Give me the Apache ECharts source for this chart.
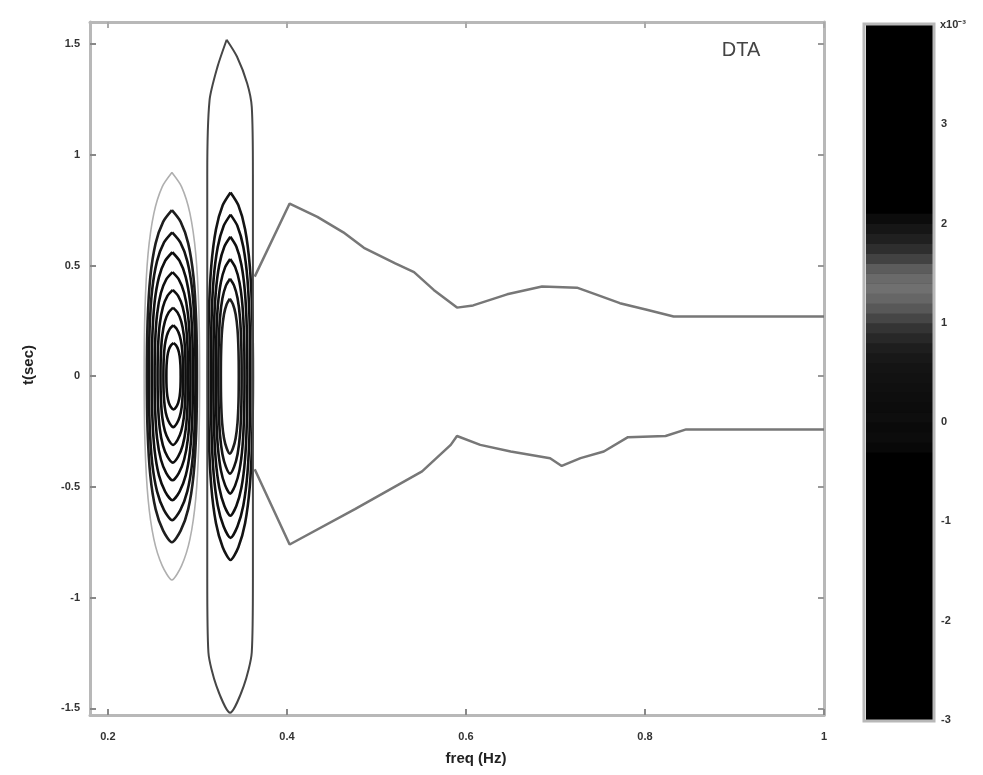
<!DOCTYPE html>
<html>
<head>
<meta charset="utf-8">
<script src="https://cdn.jsdelivr.net/npm/echarts@6/dist/echarts.min.js"></script>
<style>
  html, body { margin: 0; padding: 0; background: #fff; }
  #chart { width: 983px; height: 775px; }
</style>
</head>
<body>
<div id="chart"></div>
<script>
// tick labels
const xTicks = [0.2, 0.4, 0.6, 0.8, 1]
const yTicks = [-1.5, -1, -0.5, 0, 0.5, 1, 1.5]
const cbTicks = [-3, -2, -1, 0, 1, 2, 3]

// ridge lines [freq, t]
const upperRidge = [
  [0.364, 0.45], [0.403, 0.78], [0.434, 0.72], [0.463, 0.65], [0.486, 0.58],
  [0.521, 0.51], [0.542, 0.47], [0.564, 0.39], [0.590, 0.31], [0.608, 0.32],
  [0.646, 0.37], [0.685, 0.405], [0.724, 0.40], [0.745, 0.37], [0.772, 0.33],
  [0.802, 0.30], [0.832, 0.27], [1.0, 0.27]
]
const lowerRidge = [
  [0.364, -0.42], [0.403, -0.76], [0.476, -0.60], [0.551, -0.43], [0.583, -0.31],
  [0.590, -0.27], [0.616, -0.31], [0.650, -0.34], [0.694, -0.37], [0.707, -0.405],
  [0.728, -0.37], [0.754, -0.34], [0.781, -0.275], [0.823, -0.27], [0.846, -0.24],
  [1.0, -0.24]
]

// contour rings: [centre freq, half width, half height, gray level]
const ringsA = [
  [0.2715, 0.031, 0.92, 175],
  [0.2715, 0.028, 0.75, 30],
  [0.2718, 0.026, 0.65, 20],
  [0.2720, 0.023, 0.56, 15],
  [0.2722, 0.020, 0.47, 15],
  [0.2725, 0.017, 0.39, 15],
  [0.2728, 0.014, 0.31, 15],
  [0.2730, 0.011, 0.23, 15],
  [0.2733, 0.008, 0.15, 15]
]
const ringsB = [
  [0.3370, 0.025, 0.83, 20],
  [0.3370, 0.022, 0.73, 15],
  [0.3368, 0.019, 0.63, 15],
  [0.3366, 0.016, 0.53, 15],
  [0.3364, 0.013, 0.44, 20],
  [0.3362, 0.010, 0.35, 30]
]
const outerB = [0.3365, 0.0255, 1.52, 70]

// unit loop shapes
const lensShape = [
  [0, 1], [0.35, 0.93], [0.65, 0.8], [0.86, 0.6], [0.97, 0.33], [1, 0],
  [0.97, -0.33], [0.86, -0.6], [0.65, -0.8], [0.35, -0.93], [0, -1],
  [-0.35, -0.93], [-0.65, -0.8], [-0.86, -0.6], [-0.97, -0.33], [-1, 0],
  [-0.97, 0.33], [-0.86, 0.6], [-0.65, 0.8], [-0.35, 0.93], [0, 1]
]
const longShape = [
  [-0.15, 1], [0.3, 0.95], [0.75, 0.87], [0.95, 0.8], [1, 0.6], [1, -0.6],
  [0.95, -0.82], [0.6, -0.92], [0, -1], [-0.6, -0.92], [-0.95, -0.82],
  [-1, -0.6], [-1, 0.6], [-0.9, 0.82], [-0.55, 0.92], [-0.15, 1]
]

// colorbar gray band: [value, gray]
const cbBand = [
  [-0.3, 8], [-0.2, 12], [-0.1, 10], [0.0, 14], [0.1, 12], [0.2, 14], [0.3, 16],
  [0.4, 18], [0.5, 20], [0.6, 24], [0.7, 30], [0.8, 40], [0.9, 52], [1.0, 70],
  [1.1, 88], [1.2, 102], [1.3, 112], [1.4, 106], [1.5, 92], [1.6, 66],
  [1.7, 46], [1.8, 32], [1.9, 22], [2.0, 12]
]

const font = 'Liberation Sans'
const frameColor = '#b8b8b8'
const tickLabel = { color: '#333', fontSize: 11, fontWeight: 'bold', fontFamily: font }

function gray(g) { return 'rgb(' + g + ',' + g + ',' + g + ')' }

function ringSeries(r, shape, width) {
  return {
    type: 'line', xAxisIndex: 0, yAxisIndex: 0,
    data: shape.map(p => [r[0] + p[0] * r[1], p[1] * r[2]]),
    showSymbol: false, smooth: 0.25, silent: true,
    lineStyle: { color: gray(r[3]), width: width }
  }
}

const series = []
ringsA.forEach((r, i) => series.push(ringSeries(r, lensShape, i === 0 ? 1.6 : 2.6)))
ringsB.forEach(r => series.push(ringSeries(r, lensShape, 2.6)))
series.push(ringSeries(outerB, longShape, 2))

;[upperRidge, lowerRidge].forEach(d => series.push({
  type: 'line', xAxisIndex: 0, yAxisIndex: 0, data: d,
  showSymbol: false, silent: true,
  lineStyle: { color: '#777', width: 2.5 }
}))

// colorbar: black background then the gray band
series.push({
  type: 'custom', xAxisIndex: 2, yAxisIndex: 2, silent: true,
  data: [[-3, 4, 0]].concat(cbBand.map(b => [b[0], b[0] + 0.1, b[1]])),
  renderItem: function (params, api) {
    const p0 = api.coord([0, api.value(1)])
    const p1 = api.coord([1, api.value(0)])
    return {
      type: 'rect',
      shape: { x: p0[0], y: p0[1], width: p1[0] - p0[0], height: p1[1] - p0[1] + 0.5 },
      style: { fill: gray(api.value(2)) }
    }
  }
})

const chart = echarts.init(document.getElementById('chart'))
chart.setOption({
  animation: false,
  backgroundColor: '#fff',
  grid: [
    { left: 90, right: 159, top: 22, bottom: 60 },
    { left: 866, right: 50, top: 25, bottom: 55 }
  ],
  xAxis: [
    {
      type: 'value', gridIndex: 0, min: 0.18, max: 1, position: 'bottom',
      axisLine: { onZero: false, lineStyle: { color: frameColor, width: 3 } },
      axisTick: { inside: true, length: 6, customValues: xTicks, lineStyle: { color: '#888', width: 2 } },
      axisLabel: Object.assign({ customValues: xTicks, margin: 16, formatter: v => String(v) }, tickLabel),
      splitLine: { show: false }
    },
    {
      type: 'value', gridIndex: 0, min: 0.18, max: 1, position: 'top',
      axisLine: { onZero: false, lineStyle: { color: frameColor, width: 3 } },
      axisTick: { inside: true, length: 6, customValues: xTicks, lineStyle: { color: '#aaa', width: 2 } },
      axisLabel: { show: false }, splitLine: { show: false }
    },
    {
      type: 'value', gridIndex: 1, min: 0, max: 1,
      axisLine: { show: false }, axisTick: { show: false },
      axisLabel: { show: false }, splitLine: { show: false }
    }
  ],
  yAxis: [
    {
      type: 'value', gridIndex: 0, min: -1.53, max: 1.6, position: 'left',
      axisLine: { onZero: false, lineStyle: { color: frameColor, width: 3 } },
      axisTick: { inside: true, length: 6, customValues: yTicks, lineStyle: { color: '#888', width: 2 } },
      axisLabel: Object.assign({ customValues: yTicks, margin: 10, formatter: v => String(v) }, tickLabel),
      splitLine: { show: false }
    },
    {
      type: 'value', gridIndex: 0, min: -1.53, max: 1.6, position: 'right',
      axisLine: { onZero: false, lineStyle: { color: frameColor, width: 3 } },
      axisTick: { inside: true, length: 6, customValues: yTicks, lineStyle: { color: '#999', width: 2 } },
      axisLabel: { show: false }, splitLine: { show: false }
    },
    {
      type: 'value', gridIndex: 1, min: -3, max: 4, position: 'right',
      axisLine: { onZero: false, lineStyle: { color: frameColor, width: 3 } },
      axisTick: { inside: true, length: 5, customValues: cbTicks, lineStyle: { color: '#aaa', width: 2 } },
      axisLabel: Object.assign({ customValues: cbTicks, margin: 8, formatter: v => String(v) }, tickLabel),
      splitLine: { show: false }
    }
  ],
  graphic: [
    { type: 'rect', shape: { x: 864, y: 24, width: 70, height: 697 }, style: { fill: 'none', stroke: frameColor, lineWidth: 3 }, z: 10 },
    { type: 'text', x: 741, y: 50, style: { text: 'DTA', fill: '#444', font: '20px ' + font, align: 'center', verticalAlign: 'middle' } },
    { type: 'text', x: 476, y: 759, style: { text: 'freq (Hz)', fill: '#222', font: 'bold 15px ' + font, align: 'center', verticalAlign: 'middle' } },
    { type: 'text', x: 29, y: 365, rotation: Math.PI / 2, style: { text: 't(sec)', fill: '#222', font: 'bold 15px ' + font, align: 'center', verticalAlign: 'middle' } },
    { type: 'text', x: 940, y: 25, style: { text: 'x10⁻³', fill: '#333', font: 'bold 11px ' + font, align: 'left', verticalAlign: 'middle' } }
  ],
  series: series
})
</script>
</body>
</html>
